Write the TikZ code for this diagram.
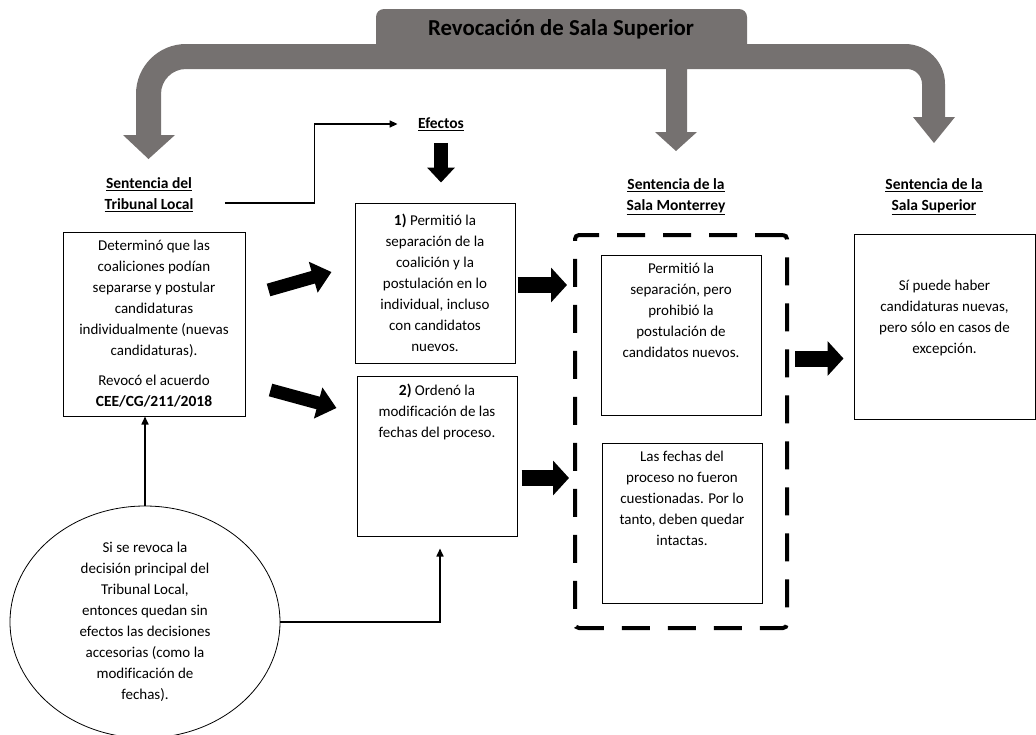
\documentclass[tikz,border=0pt]{standalone}
\usepackage{fontspec}
\setmainfont{Carlito}[Ligatures=NoCommon]
\usetikzlibrary{arrows.meta,shapes.geometric}
\definecolor{gris}{RGB}{117,113,112}
\newcommand{\cuerpo}{\fontsize{15}{21}\selectfont}
\newcommand{\negrita}{\fontsize{15.5}{21}\selectfont\bfseries}
\newcommand{\arriba}[3]{\parbox[c][#1][t]{#2}{\centering #3}}

\begin{document}
\begin{tikzpicture}[x=1pt,y=-1pt,font=\cuerpo,
  caja/.style={draw, line width=1pt, align=flush center, inner sep=0pt},
  cabeza/.style={align=center, font=\negrita},
  enlace/.style={line width=1.6pt, -{Triangle[length=8pt,width=7pt]}},
  grueso/.style={line width=16pt, -{Triangle[length=16pt,width=34pt]}},
  diagonal/.style={line width=13pt, -{Triangle[length=19pt,width=31pt]}},
  bajada/.style={line width=14pt, -{Triangle[length=15pt,width=27pt]}}]
\path[use as bounding box] (0,0) rectangle (1036,734);
\clip (0,0) rectangle (1036,734);

\fill[gris] (376,44) -- (376,17) arc[start angle=180,end angle=270,radius=8]
  -- (739,9) arc[start angle=270,end angle=360,radius=8]
  -- (747,44) -- (905,44) arc[start angle=270,end angle=360,radius=40]
  -- (945,117) -- (955,117) -- (934,143) -- (913,117) -- (922,117)
  -- (922,84) arc[start angle=0,end angle=-90,radius=15]
  -- (687,69) -- (687,132) -- (697,132) -- (676,151) -- (655,132) -- (666,132)
  -- (666,69) -- (186,69) arc[start angle=270,end angle=180,radius=25]
  -- (161,135) -- (175,135) -- (148.5,159) -- (123,135) -- (136,135)
  -- (136,94) arc[start angle=180,end angle=270,radius=50] -- cycle;
\node[font=\fontsize{22.8}{26}\selectfont\bfseries] (titulo) at (561,29) {Revocación de Sala Superior};

\node[cabeza] (hdrTL) at (149,195) {\underline{Sentencia del}\\\underline{Tribunal Local}};
\node[cabeza] (hdrSM) at (676,197) {\underline{Sentencia de la}\\\underline{Sala Monterrey}};
\node[cabeza] (hdrSS) at (934,197) {\underline{Sentencia de la}\\\underline{Sala Superior}};
\node[cabeza] (efectos) at (441,124) {\underline{Efectos}};

\node[caja, text width=172pt, minimum width=182pt, minimum height=184pt] (tlbox) at (154,324)
  {Determinó que las\\coaliciones podían\\separarse y postular\\candidaturas\\individualmente (nuevas\\candidaturas).\\[9pt]Revocó el acuerdo\\{\negrita CEE/CG/211/2018}};
\node[caja, text width=150pt, minimum width=160pt, minimum height=160pt] (efe1) at (435,283)
  {{\negrita 1)} Permitió la\\separación de la\\coalición y la\\postulación en lo\\individual, incluso\\con candidatos\\nuevos.};
\node[caja, inner xsep=5pt, inner ysep=8pt] (efe2) at (437,456)
  {\arriba{144pt}{150pt}{{\negrita 2)} Ordenó la\\modificación de las\\fechas del proceso.}};

\node[draw, line width=4pt, dash pattern=on 28pt off 18pt, rounded corners=4pt,
  minimum width=212pt, minimum height=393pt] (mty) at (681,431.5) {};
\node[caja, inner xsep=5pt, inner ysep=8pt] (mty1) at (681,335)
  {\arriba{144pt}{150pt}{Permitió la\\separación, pero\\prohibió la\\postulación de\\candidatos nuevos.}};
\node[caja, inner xsep=5pt, inner ysep=8pt] (mty2) at (682,523)
  {\arriba{144pt}{150pt}{Las fechas del\\proceso no fueron\\cuestionadas. Por lo\\tanto, deben quedar\\intactas.}};

\node[caja, inner xsep=5pt, inner ysep=8pt] (sup) at (944.5,326.5)
  {\arriba{169pt}{171pt}{\vspace*{38pt}Sí puede haber\\candidaturas nuevas,\\pero sólo en casos de\\excepción.}};

\node[ellipse, draw, line width=0.8pt, align=flush center, inner sep=0pt,
  minimum width=270pt, minimum height=232pt] (nota) at (145,622)
  {Si se revoca la\\decisión principal del\\Tribunal Local,\\entonces quedan sin\\efectos las decisiones\\accesorias (como la\\modificación de\\fechas).};

\draw[enlace, shorten >=17pt] ([xshift=28pt,yshift=-8pt]hdrTL.east) -| ([xshift=-100pt]efectos.west) -- (efectos.west);
\draw[bajada, shorten <=9pt, shorten >=20pt] (efectos.south) -- (efectos.south |- efe1.north);
\draw[diagonal] ([xshift=23pt,yshift=34pt]tlbox.east) -- ([xshift=-23pt,yshift=11pt]efe1.west);
\draw[diagonal] ([xshift=25pt,yshift=-66pt]tlbox.east) -- ([xshift=-20pt,yshift=48pt]efe2.west);
\draw[grueso, shorten <=2pt, shorten >=6pt] ([yshift=-2pt]efe1.east) -- ([yshift=-2pt]efe1.east -| mty.west);
\draw[grueso, shorten <=4pt, shorten >=4pt] ([yshift=-22pt]efe2.east) -- ([yshift=-22pt]efe2.east -| mty.west);
\draw[grueso, shorten <=6pt, shorten >=10pt] ([yshift=-32pt]sup.west -| mty.east) -- ([yshift=-32pt]sup.west);
\draw[enlace] (nota.north) -- (nota.north |- tlbox.south);
\draw[enlace, shorten >=12pt] (nota.east) -| ([xshift=3pt]efe2.south);

\end{tikzpicture}
\end{document}
